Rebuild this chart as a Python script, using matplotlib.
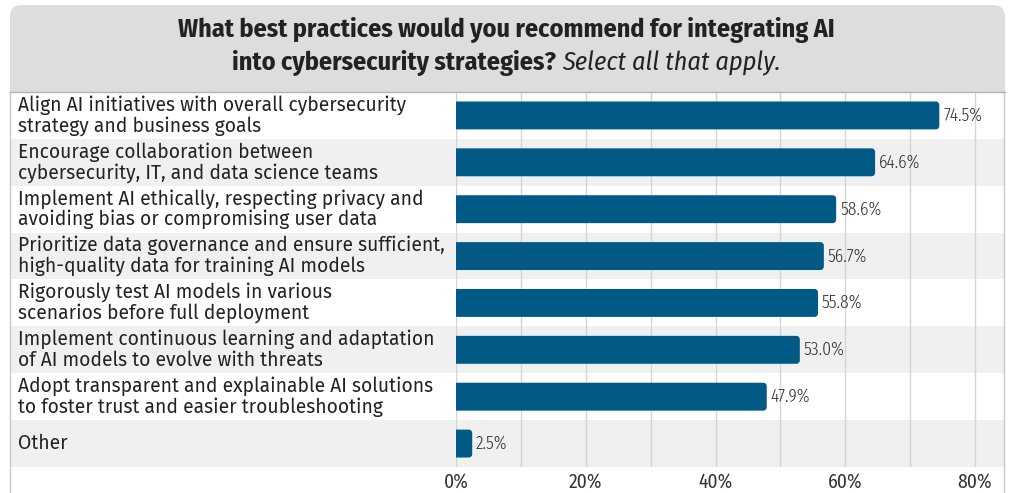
import matplotlib
matplotlib.use("Agg")
import numpy as np
import matplotlib.pyplot as plt
from matplotlib.patches import FancyBboxPatch, Rectangle, PathPatch
from matplotlib.path import Path

# data
categories = [
    "Align AI initiatives with overall cybersecurity\nstrategy and business goals",
    "Encourage collaboration between\ncybersecurity, IT, and data science teams",
    "Implement AI ethically, respecting privacy and\navoiding bias or compromising user data",
    "Prioritize data governance and ensure sufficient,\nhigh-quality data for training AI models",
    "Rigorously test AI models in various\nscenarios before full deployment",
    "Implement continuous learning and adaptation\nof AI models to evolve with threats",
    "Adopt transparent and explainable AI solutions\nto foster trust and easier troubleshooting",
    "Other",
]
values = [74.5, 64.6, 58.6, 56.7, 55.8, 53.0, 47.9, 2.5]
xticks = [0, 20, 40, 60, 80]

W, H = 1013, 493
narrow = ["Fira Sans Condensed", "Barlow Semi Condensed", "DejaVu Sans"]
xnarrow = ["Fira Sans Extra Condensed", "Fira Sans Condensed", "DejaVu Sans"]
label_font = ["Fira Sans", "Noto Sans", "DejaVu Sans"]
bar_color = "#005a85"

fig = plt.figure(figsize=(W / 100, H / 100), dpi=100)
fig.patch.set_facecolor("white")

def fx(px):
    return px / W

def fy(py):
    return 1 - py / H

# frame edges (px)
left, right = 10, 1004
top, bottom = 92, 467

# title box with rounded top corners
title_bg = "#dcdddf"
box = FancyBboxPatch((fx(left), fy(top)), fx(right + 1 - left), (top - 5) / H,
                     boxstyle="round,pad=0,rounding_size=%f" % fx(12),
                     mutation_aspect=W / H, transform=fig.transFigure,
                     facecolor=title_bg, edgecolor="none")
fig.patches.append(box)
fig.patches.append(Rectangle((fx(left), fy(top)), fx(right + 1 - left), 40 / H,
                             transform=fig.transFigure, facecolor=title_bg, edgecolor="none"))

fig.text(0.5, fy(30), "What best practices would you recommend for integrating AI",
         ha="center", va="center", fontsize=18.8, fontweight="bold", family=narrow, color="#222222")

# second title line: bold part + italic part
t1 = fig.text(0, fy(63), "into cybersecurity strategies? ", ha="left", va="center",
              fontsize=18.8, fontweight="bold", family=narrow, color="#222222")
t2 = fig.text(0, fy(63), "Select all that apply.", ha="left", va="center",
              fontsize=18.8, style="italic", family=narrow, color="#222222")
r = fig.canvas.get_renderer()
w1 = t1.get_window_extent(r).width
w2 = t2.get_window_extent(r).width
x0 = (W * 0.5 - (w1 + w2) / 2)
t1.set_x(x0 / W)
t2.set_x((x0 + w1) / W)

n = len(categories)

# background rows spanning the whole frame
bg = fig.add_axes([fx(left), fy(bottom), fx(right - left), (bottom - top) / H])
bg.set_xlim(0, right - left)
bg.set_ylim(n - 0.5, -0.5)
for i in range(n):
    if i % 2 == 1:
        bg.axhspan(i - 0.5, i + 0.5, color="#f0f0f0", lw=0)
    bg.text(8, i, categories[i], ha="left", va="center", fontsize=13.9,
            family=label_font, color="#222222", linespacing=1.07)
bg.set_xticks([])
bg.set_yticks([])
for s in bg.spines.values():
    s.set_visible(False)

# frame lines
fig.add_artist(plt.Line2D([fx(left), fx(left)], [0, fy(top)], color="#c8c8c8", lw=1))
fig.add_artist(plt.Line2D([fx(right), fx(right)], [0, fy(top)], color="#c8c8c8", lw=1))
fig.add_artist(plt.Line2D([fx(left), fx(right + 1)], [fy(top), fy(top)], color="#b4b4b4", lw=1))

# bar axes
x_zero, x_80 = 456, 975
px_per = (x_80 - x_zero) / 80
xmax = (right - x_zero) / px_per
ax = fig.add_axes([fx(x_zero), fy(bottom), fx(right - x_zero), (bottom - top) / H])
ax.patch.set_alpha(0)
ax.set_xlim(0, xmax)
ax.set_ylim(n - 0.5, -0.5)
for g in range(0, 90, 10):
    ax.axvline(g, color="#d4d4d4", lw=1, zorder=0)

bh = 28 / 47
rx = 3.5 / px_per
ry = 3.5 / 47


def bar_path(v, yc):
    # square left end, rounded right corners
    y0, y1 = yc - bh / 2, yc + bh / 2
    t = np.linspace(0, np.pi / 2, 8)
    pts = [(0, y0), (v - rx, y0)]
    pts += [(v - rx + rx * np.sin(a), y0 + ry - ry * np.cos(a)) for a in t]
    pts += [(v - rx + rx * np.cos(a), y1 - ry + ry * np.sin(a)) for a in t]
    pts += [(v - rx, y1), (0, y1), (0, y0)]
    return Path(pts, closed=True)


for i, v in enumerate(values):
    ax.add_patch(PathPatch(bar_path(v, i), facecolor=bar_color, edgecolor="none", zorder=3))
    ax.text(v + 0.6, i, "%.1f%%" % v, ha="left", va="center", fontsize=13.8,
            fontweight=300, family=xnarrow, color="#333333", zorder=4)

ax.set_xticks(xticks)
ax.set_xticklabels(["%d%%" % t for t in xticks], family=narrow, fontsize=14, color="#333333")
ax.tick_params(axis="x", length=0, pad=4)
ax.set_yticks([])
for s in ax.spines.values():
    s.set_visible(False)

fig.savefig("out.png", dpi=100)
